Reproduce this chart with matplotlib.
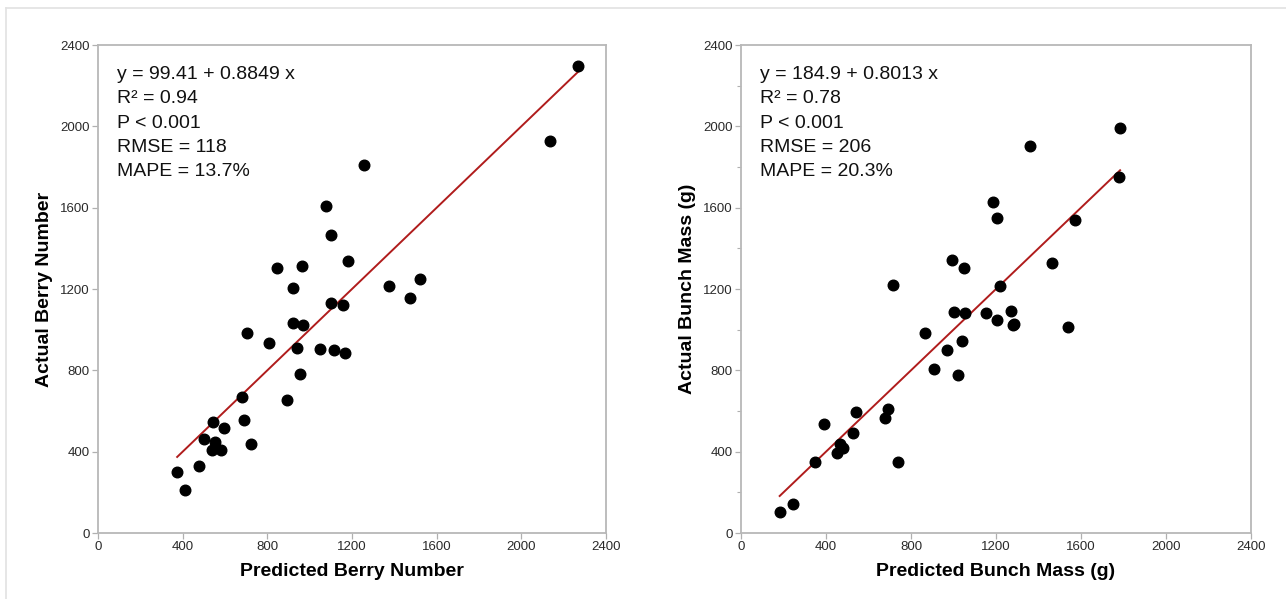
import numpy as np
import matplotlib

matplotlib.use('Agg')
import matplotlib.pyplot as plt
from matplotlib.ticker import MultipleLocator

plt.rcParams['font.family'] = ['Liberation Sans', 'DejaVu Sans']

# berry number: predicted vs actual
berry_pred = [2270, 2137, 1255, 1078, 1101, 1182, 846, 963, 1377, 1520, 921,
              1474, 1099, 1158, 919, 969, 705, 810, 939, 1051, 1114, 1168,
              952, 680, 893, 544, 690, 594, 500, 554, 538, 583, 723, 374,
              476, 412]
berry_act = [2295, 1928, 1811, 1608, 1466, 1338, 1303, 1313, 1216, 1248, 1205,
             1154, 1133, 1123, 1033, 1021, 982, 936, 910, 905, 900, 885,
             784, 670, 656, 544, 554, 518, 462, 448, 410, 410, 438, 300,
             330, 213]

# bunch mass (g): predicted vs actual
bunch_pred = [1784, 1362, 1781, 1185, 1205, 1570, 995, 1050, 1463, 714, 1221,
              1002, 1055, 1151, 1269, 1205, 1278, 1287, 1537, 865, 1041, 971,
              909, 1019, 693, 677, 542, 391, 528, 468, 482, 453, 737, 347,
              247, 182]
bunch_act = [1992, 1905, 1749, 1630, 1548, 1540, 1344, 1305, 1330, 1218, 1214,
             1087, 1082, 1082, 1093, 1046, 1021, 1026, 1011, 985, 944, 900,
             808, 777, 610, 564, 595, 538, 492, 438, 416, 395, 351, 351,
             143, 102]

berry_stats = ["y = 99.41 + 0.8849 x", "R² = 0.94", "P < 0.001",
               "RMSE = 118", "MAPE = 13.7%"]
bunch_stats = ["y = 184.9 + 0.8013 x", "R² = 0.78", "P < 0.001",
               "RMSE = 206", "MAPE = 20.3%"]

ticks = [0, 400, 800, 1200, 1600, 2000, 2400]

W, H = 1286, 599
fig = plt.figure(figsize=(W / 100, H / 100), dpi=100)

# faint frame round the figure
fig.add_artist(plt.Line2D([6 / W, 1.0], [1 - 8 / H, 1 - 8 / H],
                          color='#e2e2e2', lw=1.2, transform=fig.transFigure))
fig.add_artist(plt.Line2D([6 / W, 6 / W], [0, 1 - 8 / H],
                          color='#e2e2e2', lw=1.2, transform=fig.transFigure))

ax1 = fig.add_axes([98 / W, 66 / H, 508 / W, 488 / H])
ax2 = fig.add_axes([741 / W, 66 / H, 510 / W, 488 / H])

panels = [
    (ax1, berry_pred, berry_act, berry_stats,
     'Predicted Berry Number', 'Actual Berry Number', False),
    (ax2, bunch_pred, bunch_act, bunch_stats,
     'Predicted Bunch Mass (g)', 'Actual Bunch Mass (g)', True),
]

for ax, xs, ys, stats, xlabel, ylabel, minor in panels:
    xs = np.array(xs)
    ys = np.array(ys)
    lo, hi = xs.min(), xs.max()
    ax.plot([lo, hi], [lo, hi], color='#b01c1c', lw=1.4, zorder=2)
    ax.scatter(xs, ys, s=58, color='black', zorder=3)

    ax.set_xlim(0, 2400)
    ax.set_ylim(0, 2400)
    ax.set_xticks(ticks)
    ax.set_yticks(ticks)
    if minor:
        ax.yaxis.set_minor_locator(MultipleLocator(200))
        ax.tick_params(axis='y', which='minor', length=3, width=0.8,
                       color='#b0b0b0')

    for sp in ax.spines.values():
        sp.set_color('#b8b8b8')
        sp.set_linewidth(1.3)
    ax.tick_params(axis='both', which='major', length=4, width=0.9,
                   color='#b0b0b0', labelsize=9.5, labelcolor='#2a2a2a',
                   pad=2)

    ax.set_xlabel(xlabel, fontsize=14, fontweight='bold', labelpad=7)
    ax.set_ylabel(ylabel, fontsize=14, fontweight='bold', labelpad=5)

    for i, line in enumerate(stats):
        ax.text(0.037, 0.930 - i * 0.0498, line, transform=ax.transAxes,
                fontsize=14, va='baseline', ha='left', color='#111111')

fig.savefig('out.png', dpi=100)
